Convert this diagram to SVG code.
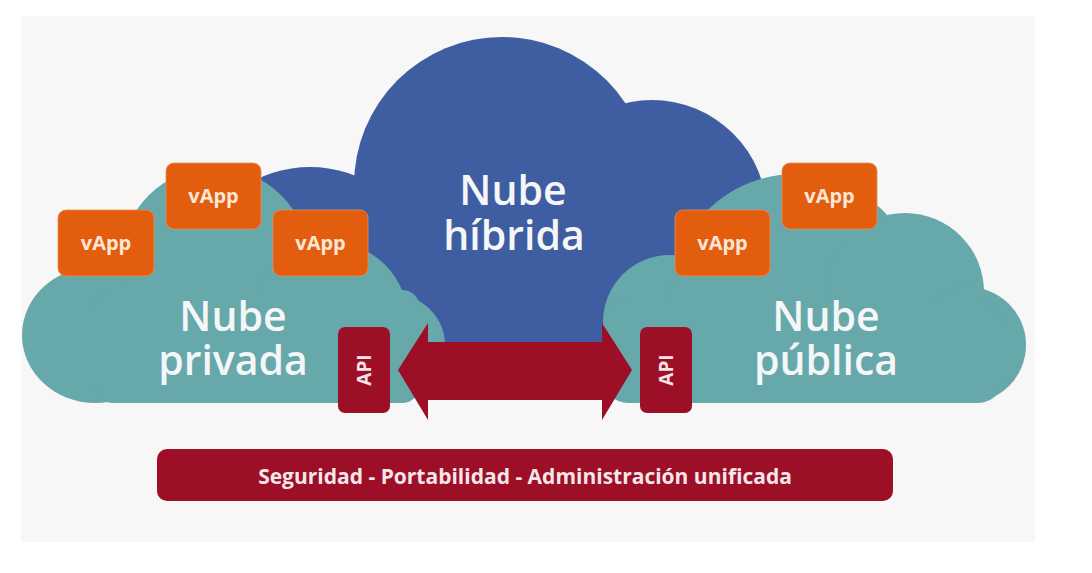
<svg xmlns="http://www.w3.org/2000/svg" width="1092" height="573" viewBox="0 0 1092 573">
  <defs>
    <clipPath id="cloudClip">
      <rect x="0" y="0" width="1092" height="403"/>
    </clipPath>
    <style>
      .blue { fill: #3f5ea2; }
      .teal { fill: #67a8aa; }
      .vapp rect { fill: #e25e0e; stroke: #ec8a55; stroke-width: 0.8; }
      .vapp text { fill: #fde6d6; font-family: "Open Sans", "DejaVu Sans", sans-serif; font-weight: 700; font-size: 20px; text-anchor: middle; }
      .crimson { fill: #9c0f27; }
      .big { fill: #f4f6f8; font-family: "Open Sans", "DejaVu Sans", sans-serif; font-weight: 600; font-size: 41px; text-anchor: middle; }
      .api { fill: #f6e3e6; font-family: "Open Sans", "DejaVu Sans", sans-serif; font-weight: 700; font-size: 19px; text-anchor: middle; }
      .banner { fill: #f6e6e9; font-family: "Open Sans", "DejaVu Sans", sans-serif; font-weight: 700; font-size: 21px; text-anchor: middle; }
    </style>
  </defs>

  <rect x="0" y="0" width="1092" height="573" fill="#ffffff"/>
  <rect x="21" y="16" width="1014" height="526" fill="#f7f7f7"/>

  <g id="nube-hibrida">
    <g class="blue">
      <circle cx="502" cy="185" r="148"/>
      <ellipse cx="310" cy="240" rx="95" ry="73"/>
      <circle cx="652" cy="215" r="115"/>
      <rect x="330" y="200" width="400" height="170"/>
    </g>
    <text class="big" x="513" y="205">Nube</text>
    <text class="big" x="514" y="250">híbrida</text>
  </g>

  <g id="nube-privada">
    <g class="teal" clip-path="url(#cloudClip)">
      <ellipse cx="95" cy="335" rx="73" ry="68"/>
      <circle cx="215" cy="262" r="94"/>
      <circle cx="330" cy="320" r="78"/>
      <circle cx="395" cy="345" r="50"/>
      <rect x="95" y="290" width="325" height="113" rx="18"/>
    </g>
    <text class="big" x="233" y="331">Nube</text>
    <text class="big" x="233" y="375">privada</text>
  </g>

  <g id="nube-publica">
    <g class="teal" clip-path="url(#cloudClip)">
      <circle cx="670" cy="322" r="67"/>
      <circle cx="795" cy="298" r="124"/>
      <circle cx="905" cy="292" r="79"/>
      <circle cx="968" cy="345" r="58"/>
      <rect x="603" y="300" width="400" height="103" rx="25"/>
    </g>
    <text class="big" x="826" y="331">Nube</text>
    <text class="big" x="826" y="375">pública</text>
  </g>

  <g id="vapp-1" class="vapp">
    <rect x="58" y="210" width="96" height="66" rx="8"/>
    <text x="106" y="250">vApp</text>
  </g>
  <g id="vapp-2" class="vapp">
    <rect x="166" y="163" width="95" height="66" rx="8"/>
    <text x="213.5" y="203">vApp</text>
  </g>
  <g id="vapp-3" class="vapp">
    <rect x="273" y="210" width="95" height="66" rx="8"/>
    <text x="320.5" y="250">vApp</text>
  </g>
  <g id="vapp-4" class="vapp">
    <rect x="675" y="210" width="95" height="66" rx="8"/>
    <text x="722.5" y="250">vApp</text>
  </g>
  <g id="vapp-5" class="vapp">
    <rect x="782" y="163" width="95" height="66" rx="8"/>
    <text x="829.5" y="203">vApp</text>
  </g>

  <g id="connectors">
    <path class="crimson" d="M398,370 L428,323 L428,342 L602,342 L602,323 L632,370 L602,420 L602,400 L428,400 L428,420 Z"/>
  </g>

  <g id="api-privada">
    <rect class="crimson" x="338" y="327" width="52" height="86" rx="7"/>
    <text class="api" transform="translate(371,370) rotate(-90)" x="0" y="0">API</text>
  </g>
  <g id="api-publica">
    <rect class="crimson" x="640" y="327" width="52" height="86" rx="7"/>
    <text class="api" transform="translate(673,370) rotate(-90)" x="0" y="0">API</text>
  </g>

  <g id="banner">
    <rect class="crimson" x="157" y="449" width="736" height="52" rx="10"/>
    <text class="banner" x="525" y="484">Seguridad - Portabilidad - Administración unificada</text>
  </g>
</svg>
